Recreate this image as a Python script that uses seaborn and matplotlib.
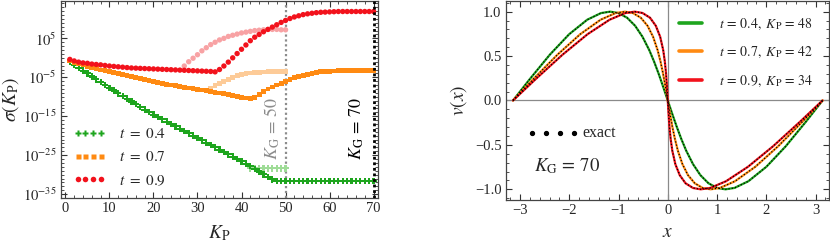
import numpy as np
import pandas as pd
import matplotlib
matplotlib.use("Agg")
import matplotlib.pyplot as plt
from matplotlib.lines import Line2D
from matplotlib.ticker import FixedLocator, FixedFormatter, MultipleLocator, FuncFormatter
import seaborn as sns

# ---------------- data: left panel (log10 sigma) ----------------
K = list(range(1, 71))
log_sigma_t04 = [-1.1, -1.9, -2.6, -3.3, -4.0, -4.8, -5.5, -6.2, -7.0, -7.7,
                 -8.4, -9.1, -9.8, -10.5, -11.2, -11.9, -12.6, -13.3, -13.9, -14.6,
                 -15.2, -15.8, -16.4, -17.0, -17.6, -18.2, -18.8, -19.4, -20.0, -20.6,
                 -21.2, -21.8, -22.4, -23.0, -23.6, -24.2, -24.8, -25.4, -26.0, -26.6,
                 -27.2, -27.8, -28.5, -29.2, -29.9, -30.6, -31.2, -31.6, -31.6, -31.6,
                 -31.6, -31.6, -31.6, -31.6, -31.6, -31.6, -31.6, -31.6, -31.6, -31.6,
                 -31.6, -31.6, -31.6, -31.6, -31.6, -31.6, -31.6, -31.6, -31.6, -31.6]
log_sigma_t07 = [-0.8, -1.2, -1.5, -1.8, -2.2, -2.6, -2.8, -3.1, -3.3, -3.6,
                 -3.8, -4.0, -4.2, -4.5, -4.8, -5.1, -5.4, -5.6, -5.9, -6.1,
                 -6.4, -6.6, -6.8, -7.0, -7.2, -7.4, -7.6, -7.75, -7.9, -8.1,
                 -8.25, -8.45, -8.65, -8.85, -9.05, -9.25, -9.45, -9.7, -9.9, -10.1,
                 -10.3, -10.5, -10.1, -9.5, -8.7, -8.0, -7.5, -7.0, -6.5, -6.0,
                 -5.5, -5.1, -4.8, -4.5, -4.2, -4.0, -3.8, -3.6, -3.5, -3.45,
                 -3.4, -3.35, -3.3, -3.25, -3.2, -3.2, -3.2, -3.2, -3.2, -3.2]
log_sigma_t09 = [-0.4, -0.8, -1.1, -1.3, -1.4, -1.6, -1.7, -1.8, -1.95, -2.1,
                 -2.2, -2.3, -2.4, -2.5, -2.6, -2.65, -2.7, -2.75, -2.8, -2.85,
                 -2.9, -2.95, -3.0, -3.05, -3.1, -3.15, -3.2, -3.25, -3.3, -3.35,
                 -3.4, -3.45, -3.5, -3.6, -3.0, -2.1, -1.1, 0.0, 1.1, 2.2,
                 3.3, 4.4, 5.3, 6.0, 6.7, 7.3, 7.9, 8.5, 9.1, 9.6,
                 10.1, 10.5, 10.8, 11.1, 11.3, 11.45, 11.6, 11.7, 11.75, 11.8,
                 11.85, 11.9, 11.9, 11.9, 11.9, 11.9, 11.9, 11.9, 11.9, 11.9]
# K_G = 50 branches (light)
K_light_t04 = [42, 43, 44, 45, 46, 47, 48, 49, 50]
log_light_t04 = [-28.4, -28.4, -28.4, -28.4, -28.4, -28.4, -28.4, -28.4, -28.4]
K_light_t07 = [32, 33, 34, 35, 36, 37, 38, 39, 40, 41, 42, 43, 44, 45, 46, 47, 48, 49, 50]
log_light_t07 = [-8.3, -7.8, -7.2, -6.6, -6.0, -5.5, -5.0, -4.6, -4.3, -4.1,
                 -3.9, -3.8, -3.7, -3.65, -3.6, -3.6, -3.6, -3.6, -3.6]
K_light_t09 = [27, 28, 29, 30, 31, 32, 33, 34, 35, 36, 37, 38, 39, 40, 41, 42,
               43, 44, 45, 46, 47, 48, 49, 50]
log_light_t09 = [-2.1, -1.0, -0.1, 0.8, 1.8, 2.6, 3.4, 4.0, 4.6, 5.0, 5.5, 5.8,
                 6.1, 6.4, 6.6, 6.8, 7.0, 7.1, 7.2, 7.3, 7.3, 7.3, 7.2, 7.2]

# ---------------- data: right panel v(x) ----------------
x_t04 = [-3.142, -2.804, -2.394, -2.002, -1.636, -1.356, -1.171, -1.006, -0.827, -0.663,
         -0.513, -0.374, -0.276, -0.182, -0.090, 0.0, 0.090, 0.182, 0.276, 0.374,
         0.513, 0.663, 0.827, 1.006, 1.171, 1.356, 1.636, 2.002, 2.394, 2.804, 3.142]
x_t07 = [-3.142, -2.733, -2.239, -1.778, -1.364, -1.061, -0.871, -0.710, -0.548, -0.411,
         -0.298, -0.205, -0.146, -0.093, -0.045, 0.0, 0.045, 0.093, 0.146, 0.205,
         0.298, 0.411, 0.548, 0.710, 0.871, 1.061, 1.364, 1.778, 2.239, 2.733, 3.142]
x_t09 = [-3.142, -2.685, -2.136, -1.629, -1.182, -0.864, -0.671, -0.513, -0.361, -0.243,
         -0.154, -0.092, -0.059, -0.034, -0.016, 0.0, 0.016, 0.034, 0.059, 0.092,
         0.154, 0.243, 0.361, 0.513, 0.671, 0.864, 1.182, 1.629, 2.136, 2.685, 3.142]
v_vals = [0.0, 0.239, 0.516, 0.746, 0.909, 0.984, 1.0, 0.985, 0.932, 0.841,
          0.717, 0.565, 0.435, 0.296, 0.149, 0.0, -0.149, -0.296, -0.435, -0.565,
          -0.717, -0.841, -0.932, -0.985, -1.0, -0.984, -0.909, -0.746, -0.516, -0.239, 0.0]

t_labels = ["0.4", "0.7", "0.9"]
KP_labels = ["48", "42", "34"]

# ---------------- style ----------------
sns.set_style("ticks")
plt.rcParams["font.family"] = ["Liberation Serif", "DejaVu Serif"]
plt.rcParams["mathtext.fontset"] = "stix"
plt.rcParams["axes.unicode_minus"] = True

GREEN = "#1EA51E"
ORANGE = "#FF8A12"
RED = "#F2121C"
LGREEN = "#9FDC97"
LORANGE = "#FDCB98"
LRED = "#F8A2A4"

fig = plt.figure(figsize=(8.30, 2.43), dpi=100)
axL = fig.add_axes([0.0735, 0.1852, 0.3819, 0.8107])
axR = fig.add_axes([0.6093, 0.1770, 0.3899, 0.8189])

# ---------------- left panel ----------------
def sc(ax, xs, logs, color, marker, s, z):
    df = pd.DataFrame({"K": xs, "sigma": 10.0 ** np.array(logs)})
    sns.scatterplot(data=df, x="K", y="sigma", ax=ax, color=color, marker=marker,
                    s=s, linewidth=0, edgecolor="none", zorder=z, legend=False)

axL.set_yscale("log")
sc(axL, K_light_t04, log_light_t04, LGREEN, "P", 22, 2)
sc(axL, K_light_t07, log_light_t07, LORANGE, "s", 12, 2)
sc(axL, K_light_t09, log_light_t09, LRED, "o", 15, 2)
sc(axL, K, log_sigma_t04, GREEN, "P", 22, 3)
sc(axL, K, log_sigma_t07, ORANGE, "s", 12, 3)
sc(axL, K, log_sigma_t09, RED, "o", 15, 3)

axL.axvline(50, color="#8C8C8C", lw=1.6, ls=(0, (1, 1.2)), zorder=1)
axL.axvline(70, color="black", lw=2.0, ls=(0, (1, 1.0)), zorder=4)

axL.set_xlim(-1, 71)
axL.set_ylim(10.0 ** -36, 10.0 ** 14.6)

axL.text(47.0, 10.0 ** -18, r"$K_{\mathrm{G}}\,=\,50$", rotation=90, color="#8C8C8C",
         fontsize=13, ha="center", va="center")
axL.text(66.3, 10.0 ** -18, r"$K_{\mathrm{G}}\,=\,70$", rotation=90, color="black",
         fontsize=13, ha="center", va="center")

axL.xaxis.set_major_locator(MultipleLocator(10))
axL.xaxis.set_minor_locator(MultipleLocator(2))
maj = [1e5, 1e-5, 1e-15, 1e-25, 1e-35]
axL.yaxis.set_major_locator(FixedLocator(maj))
axL.yaxis.set_major_formatter(FixedFormatter([r"$10^{5}$", r"$10^{-5}$", r"$10^{-15}$",
                                              r"$10^{-25}$", r"$10^{-35}$"]))
axL.yaxis.set_minor_locator(FixedLocator([10.0 ** k for k in range(-36, 15)]))
axL.yaxis.set_minor_formatter(FixedFormatter([]))

axL.set_xlabel(r"$K_{\mathrm{P}}$", fontsize=14, labelpad=6)
axL.set_ylabel(r"$\sigma(K_{\mathrm{P}})$", fontsize=14, labelpad=2)

leg_handles = [
    Line2D([], [], color=GREEN, marker="P", ls="none", ms=4.8, mec="none"),
    Line2D([], [], color=ORANGE, marker="s", ls="none", ms=3.6, mec="none"),
    Line2D([], [], color=RED, marker="o", ls="none", ms=4.0, mec="none"),
]
axL.legend(leg_handles, [r"$t\ =\ 0.4$", r"$t\ =\ 0.7$", r"$t\ =\ 0.9$"],
           loc="lower left", bbox_to_anchor=(0.0, -0.01), numpoints=4, frameon=False,
           fontsize=11, handlelength=2.1, handletextpad=0.9, labelspacing=0.6,
           borderpad=0.3)

# ---------------- right panel ----------------
axR.axhline(0, color="#8A8A8A", lw=0.9, zorder=1)
axR.axvline(0, color="#8A8A8A", lw=0.9, zorder=1)

for xs, col in [(x_t04, GREEN), (x_t07, ORANGE), (x_t09, RED)]:
    df = pd.DataFrame({"x": xs, "v": v_vals})
    sns.lineplot(data=df, x="x", y="v", ax=axR, color=col, lw=1.6, sort=False,
                 estimator=None, zorder=2)
for xs in [x_t04, x_t07, x_t09]:
    df = pd.DataFrame({"x": xs, "v": v_vals})
    sns.lineplot(data=df, x="x", y="v", ax=axR, color="black", lw=0.9, sort=False,
                 estimator=None, ls=(0, (1, 1.6)), zorder=3)

axR.set_xlim(-3.29, 3.28)
axR.set_ylim(-1.12, 1.12)
axR.xaxis.set_major_locator(MultipleLocator(1))
axR.xaxis.set_minor_locator(MultipleLocator(0.2))
axR.yaxis.set_major_locator(MultipleLocator(0.5))
axR.yaxis.set_minor_locator(MultipleLocator(0.1))
axR.yaxis.set_major_formatter(FuncFormatter(
    lambda v, p: ("%.1f" % v).replace("-", "\u2212")))
axR.xaxis.set_major_formatter(FuncFormatter(
    lambda v, p: ("%d" % round(v)).replace("-", "\u2212")))
axR.set_xlabel(r"$x$", fontsize=14, labelpad=5)
axR.set_ylabel(r"$v(x)$", fontsize=14, labelpad=4)

rh = [Line2D([], [], color=c, lw=2.6) for c in (GREEN, ORANGE, RED)]
axR.legend(rh, [r"$t\,{=}\,%s,\ K_{\mathrm{P}}\,{=}\,%s$" % (a, b)
                for a, b in zip(t_labels, KP_labels)],
           loc="upper right", bbox_to_anchor=(0.99, 0.985), frameon=False, fontsize=10,
           handlelength=1.7, handletextpad=1.2, labelspacing=0.95)

axR.plot([-2.76, -2.47, -2.18, -1.90], [-0.37] * 4, ls="none", marker="o", ms=2.8,
         color="black")
axR.text(-1.74, -0.37, "exact", fontsize=11.5, va="center", ha="left")
axR.text(-2.72, -0.74, r"$K_{\mathrm{G}}\,{=}\,70$", fontsize=13.5, va="center", ha="left")

for ax in (axL, axR):
    ax.tick_params(which="both", direction="in", top=True, right=True, labelsize=10.5,
                   color="#333333", pad=3)
    ax.tick_params(which="major", length=4, width=0.8)
    ax.tick_params(which="minor", length=2.3, width=0.6)
    for s in ax.spines.values():
        s.set_color("#444444")
        s.set_linewidth(0.9)

fig.savefig("out.png", dpi=100)
